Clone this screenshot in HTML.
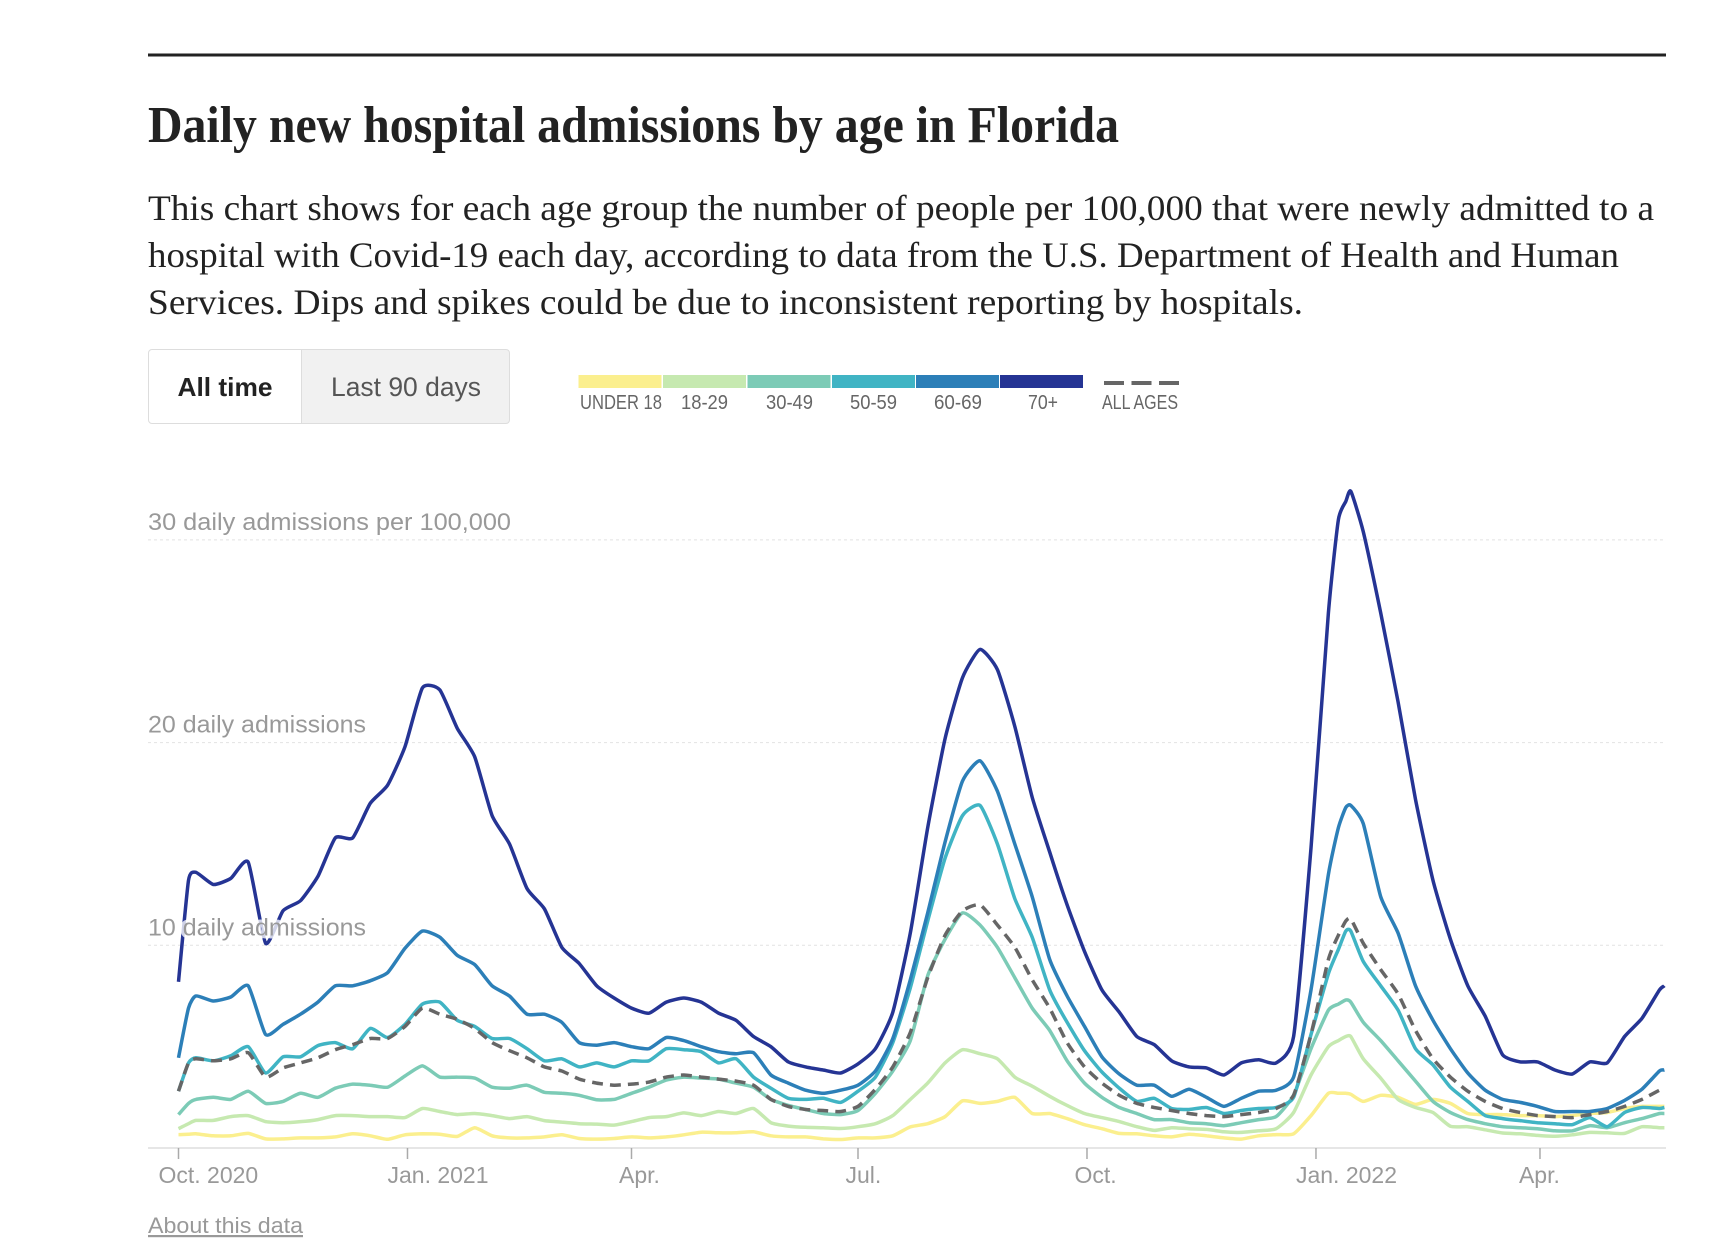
<!DOCTYPE html>
<html lang="en">
<head>
<meta charset="utf-8">
<title>Daily new hospital admissions by age in Florida</title>
<style>
html,body{margin:0;padding:0;background:#fff;width:1728px;height:1260px;overflow:hidden}
svg{display:block}
.serif{font-family:"Liberation Serif",serif}
.sans{font-family:"Liberation Sans",sans-serif}
.ylab{font-family:"Liberation Sans",sans-serif;font-size:24px;fill:#999;paint-order:stroke;stroke:rgba(255,255,255,.78);stroke-width:6px;stroke-linejoin:round}
.xlab{font-family:"Liberation Sans",sans-serif;font-size:23px;fill:#999}
.leg{font-family:"Liberation Sans",sans-serif;font-size:20px;fill:#666}
</style>
</head>
<body>
<svg id="page" width="1728" height="1260" viewBox="0 0 1728 1260" xmlns="http://www.w3.org/2000/svg">
  <rect x="148" y="53.5" width="1518" height="3" fill="#222"/>
  <text class="serif" x="148" y="142" font-size="52" font-weight="700" fill="#222" textLength="971" lengthAdjust="spacingAndGlyphs">Daily new hospital admissions by age in Florida</text>
  <g class="serif" font-size="36" fill="#222">
    <text x="148" y="220" textLength="1506" lengthAdjust="spacingAndGlyphs">This chart shows for each age group the number of people per 100,000 that were newly admitted to a</text>
    <text x="148" y="267" textLength="1471" lengthAdjust="spacingAndGlyphs">hospital with Covid-19 each day, according to data from the U.S. Department of Health and Human</text>
    <text x="148" y="314" textLength="1155" lengthAdjust="spacingAndGlyphs">Services. Dips and spikes could be due to inconsistent reporting by hospitals.</text>
  </g>

  <g>
    <g>
      <path d="M152 349.5H301.5V423.5H152a3.500 3.500 0 0 1-3.500-3.500V353a3.500 3.500 0 0 1 3.500-3.500z" fill="#fff" stroke="#ddd"/>
      <text class="sans" x="177.500" y="396" font-size="26" font-weight="700" fill="#222" textLength="95" lengthAdjust="spacingAndGlyphs">All time</text>
    </g>
    <g>
      <path d="M301.500 349.5H506a3.500 3.500 0 0 1 3.500 3.500V420a3.500 3.500 0 0 1-3.500 3.500H301.500z" fill="#f1f1f1" stroke="#ddd"/>
      <text class="sans" x="331" y="396" font-size="27" fill="#555" textLength="150" lengthAdjust="spacingAndGlyphs">Last 90 days</text>
    </g>
  </g>

  <g>
    <g><rect x="578.500" y="375" width="83" height="13" fill="#fbef8e"/><text class="leg" x="580" y="409" textLength="82" lengthAdjust="spacingAndGlyphs">UNDER 18</text></g>
    <g><rect x="663" y="375" width="83" height="13" fill="#c6e9b0"/><text class="leg" x="681" y="409" textLength="47" lengthAdjust="spacingAndGlyphs">18-29</text></g>
    <g><rect x="747.500" y="375" width="83" height="13" fill="#7ccbb6"/><text class="leg" x="766" y="409" textLength="47" lengthAdjust="spacingAndGlyphs">30-49</text></g>
    <g><rect x="832" y="375" width="83" height="13" fill="#40b4c4"/><text class="leg" x="850" y="409" textLength="47" lengthAdjust="spacingAndGlyphs">50-59</text></g>
    <g><rect x="916" y="375" width="83" height="13" fill="#2c7fb8"/><text class="leg" x="934" y="409" textLength="48" lengthAdjust="spacingAndGlyphs">60-69</text></g>
    <g><rect x="1000" y="375" width="83" height="13" fill="#253494"/><text class="leg" x="1028" y="409" textLength="30" lengthAdjust="spacingAndGlyphs">70+</text></g>
    <g><path d="M1104 383H1179" stroke="#666" stroke-width="4" stroke-dasharray="20 7.500" fill="none"/><text class="leg" x="1102" y="409" textLength="76" lengthAdjust="spacingAndGlyphs">ALL AGES</text></g>
  </g>

  <g id="grid"></g>
  <g id="axis"></g>
  <g id="series"></g>
  <g id="ylabels"></g>

  <text class="sans" x="148" y="1233" font-size="22" fill="#999" text-decoration="underline" textLength="155" lengthAdjust="spacingAndGlyphs">About this data</text>
</svg>

<script>
const days = [0,4,7,14,21,28,35,42,49,56,63,70,77,84,91,98,105,112,119,126,133,140,147,154,161,168,175,182,189,196,203,210,217,224,231,238,245,252,259,266,273,280,287,294,301,308,315,322,329,336,343,350,357,364,371,378,385,392,399,406,413,420,427,434,441,448,455,462,466,469,471,476,483,490,497,504,511,518,525,532,539,546,553,560,567,574,581,588,595,597];

const under18 = [.66,.68,.7,.6,.6,.72,.45,.45,.5,.5,.55,.7,.6,.43,.65,.7,.68,.57,1,.6,.5,.5,.55,.65,.47,.44,.47,.55,.5,.55,.65,.78,.75,.75,.8,.6,.55,.55,.45,.42,.5,.5,.6,1.04,1.2,1.55,2.33,2.2,2.3,2.5,1.7,1.7,1.45,1.15,.95,.72,.7,.6,.55,.68,.6,.5,.44,.6,.66,.7,1.6,2.7,2.7,2.7,2.65,2.3,2.6,2.5,2.15,2.4,2.2,1.7,1.65,1.65,1.6,1.6,1.55,1.6,1.7,1.75,1.95,2.05,2.05,2.05];
const age18to29 = [.95,1.2,1.36,1.36,1.55,1.6,1.3,1.25,1.3,1.4,1.6,1.6,1.55,1.55,1.5,1.95,1.8,1.65,1.7,1.6,1.45,1.55,1.35,1.28,1.2,1.18,1.13,1.3,1.5,1.55,1.73,1.6,1.8,1.7,1.95,1.25,1.08,1.02,1,.96,1.05,1.2,1.6,2.4,3.2,4.2,4.85,4.65,4.4,3.5,3.05,2.55,2.1,1.7,1.5,1.3,1.05,.87,1,.95,.92,.8,.77,.85,.95,1.75,3.6,5,5.3,5.5,5.5,4.4,3.45,2.4,2,1.75,1.07,1.05,.9,.74,.7,.62,.58,.65,.77,.75,.72,1.05,1,1];
const age30to49 = [1.65,2.2,2.4,2.5,2.4,2.8,2.2,2.3,2.7,2.5,2.95,3.15,3.1,3,3.55,4.05,3.5,3.5,3.45,3,2.95,3.1,2.75,2.7,2.6,2.38,2.4,2.7,3,3.35,3.5,3.45,3.4,3.2,3,2.4,2.1,1.9,1.7,1.65,1.85,2.7,3.8,5.3,8.5,10.3,11.6,11,9.9,8.4,6.9,5.8,4.3,3.2,2.5,2,1.7,1.4,1.4,1.25,1.2,1.1,1.25,1.4,1.55,2.6,4.9,6.8,7.1,7.3,7.2,6.2,5.3,4.3,3.3,2.3,1.75,1.4,1.2,1.05,1,.95,.85,.85,1.1,1,1.25,1.45,1.7,1.7];
const age50to59 = [2.8,4.2,4.45,4.3,4.55,5,3.7,4.5,4.5,5.05,5.2,4.9,5.9,5.45,6.1,7.1,7.2,6.3,6,5.4,5.4,4.9,4.3,4.4,4,4.2,4,4.3,4.3,4.9,4.85,4.75,4.2,4.4,3.5,2.95,2.45,2.4,2.45,2.25,2.8,3.5,5.2,7.9,11.2,14.3,16.4,16.9,15,12.3,10.4,7.8,6.2,4.8,3.75,2.95,2.3,2.45,1.95,1.9,2,1.7,1.85,1.95,2,2.5,5.6,8.6,9.8,10.7,10.7,9.2,8,6.8,4.9,4.1,3,2.3,1.6,1.45,1.35,1.25,1.2,1.15,1.5,1.05,1.75,2,1.95,2];
const age60to69 = [4.45,6.9,7.5,7.25,7.45,8,5.6,6.1,6.6,7.2,8,8,8.25,8.65,9.85,10.7,10.4,9.5,9.05,8,7.5,6.6,6.6,6.2,5.2,5.07,5.2,5,4.9,5.45,5.3,5,4.75,4.65,4.7,3.6,3.2,2.85,2.7,2.85,3.1,3.8,5.4,8.3,11.6,15.1,18.1,19.1,17.6,15,12.4,9.3,7.5,6,4.5,3.65,3.1,3.1,2.55,2.9,2.5,2.05,2.45,2.8,2.85,3.5,7.8,13.5,15.8,16.8,16.9,16,12.4,10.6,8,6.3,4.9,3.7,2.85,2.4,2.25,2.05,1.8,1.8,1.8,1.95,2.35,2.9,3.8,3.85];
const age70plus = [8.2,13.2,13.6,13,13.3,14.1,10.1,11.7,12.2,13.4,15.3,15.3,17,17.9,19.8,22.7,22.6,20.7,19.3,16.4,15,12.8,11.8,9.9,9.1,8,7.4,6.9,6.65,7.2,7.4,7.2,6.65,6.3,5.5,5,4.25,4,3.85,3.7,4.15,4.9,6.7,10.6,15.8,20.2,23.2,24.6,23.6,20.8,17.3,14.6,12,9.7,7.8,6.7,5.5,5.1,4.3,4,3.95,3.6,4.2,4.35,4.2,5.5,14.8,26.4,31,31.9,32.4,30.4,26.4,22,17.2,13.2,10.3,8,6.5,4.6,4.25,4.25,3.85,3.65,4.25,4.2,5.5,6.4,7.8,8];
const allAges = [2.8,4.2,4.4,4.3,4.4,4.7,3.5,3.95,4.2,4.45,4.85,5.1,5.4,5.4,6,6.9,6.6,6.35,5.9,5.2,4.8,4.45,4,3.8,3.4,3.2,3.1,3.15,3.25,3.5,3.6,3.5,3.4,3.3,3.1,2.4,2.05,1.9,1.85,1.8,2.05,2.9,4,5.7,8.4,10.5,11.7,12,11,9.9,8.3,6.9,5.2,4,3.2,2.6,2.2,2,1.85,1.7,1.6,1.55,1.65,1.75,1.95,2.6,5.6,9.3,10.5,11.2,11.3,10.1,8.8,7.6,5.8,4.4,3.5,2.8,2.3,1.95,1.75,1.6,1.55,1.5,1.65,1.8,2.05,2.4,2.85,2.9];

const tickDays = [0,92,182,273,365,457,547];
const tickLabels = ['Oct. 2020','Jan. 2021','Apr.','Jul.','Oct.','Jan. 2022','Apr.'];
const gridValues = [10,20,30];
const gridLabels = ['10 daily admissions','20 daily admissions','30 daily admissions per 100,000'];

const NS = 'http://www.w3.org/2000/svg';
const x = d => 178.5 + d * 2.489;
const y = v => 1148 - v * 20.27;
const make = (tag, parent) => { const e = document.createElementNS(NS, tag); parent.appendChild(e); return e; };

const gridG = document.getElementById('grid');
const ylabG = document.getElementById('ylabels');
const labelWidths = {'10 daily admissions':218,'20 daily admissions':218,'30 daily admissions per 100,000':363};
gridValues.forEach((v, i) => {
  const l = make('line', gridG);
  
  
  l.setAttribute('x1', 148); l.setAttribute('x2', 1666);
  l.setAttribute('y1', y(v)); l.setAttribute('y2', y(v));
  l.setAttribute('stroke', '#e2e2e2'); l.setAttribute('stroke-dasharray', '3 3');
  const t = make('text', ylabG);
  
  
  t.setAttribute('class', 'ylab');
  t.setAttribute('x', 148); t.setAttribute('y', y(v) - 10);
  t.setAttribute('textLength', labelWidths[gridLabels[i]]);
  t.setAttribute('lengthAdjust', 'spacingAndGlyphs');
  t.textContent = gridLabels[i];
});

const axisG = document.getElementById('axis');
const base = make('line', axisG);


base.setAttribute('x1', 148); base.setAttribute('x2', 1666);
base.setAttribute('y1', y(0)); base.setAttribute('y2', y(0));
base.setAttribute('stroke', '#ddd'); base.setAttribute('stroke-width', 1.5);
tickDays.forEach((d, i) => {
  const tk = make('line', axisG);
  
  
  tk.setAttribute('x1', x(d)); tk.setAttribute('x2', x(d));
  tk.setAttribute('y1', y(0)); tk.setAttribute('y2', y(0) + 11);
  tk.setAttribute('stroke', '#aaa'); tk.setAttribute('stroke-width', 1.5);
  const t = make('text', axisG);
  
  
  t.setAttribute('class', 'xlab');
  t.setAttribute('x', x(d) + (i === 6 ? -21 : (tickLabels[i].length > 5 ? -20 : -12.5)));
  t.setAttribute('y', 1183);
  t.textContent = tickLabels[i];
});

const seriesG = document.getElementById('series');
const smoothPath = values => {
  const pts = values.map((v, i) => [x(days[i]), y(v)]);
  let d = 'M' + pts[0][0].toFixed(1) + ' ' + pts[0][1].toFixed(1);
  const k = 0.55 / 3;
  for (let i = 0; i < pts.length - 1; i++) {
    const p0 = pts[Math.max(i - 1, 0)], p1 = pts[i], p2 = pts[i + 1], p3 = pts[Math.min(i + 2, pts.length - 1)];
    const c1 = [p1[0] + (p2[0] - p0[0]) * k / 2 * 1, p1[1] + (p2[1] - p0[1]) * k / 2 * 1];
    const c2 = [p2[0] - (p3[0] - p1[0]) * k / 2 * 1, p2[1] - (p3[1] - p1[1]) * k / 2 * 1];
    d += 'C' + c1[0].toFixed(1) + ' ' + c1[1].toFixed(1) + ' ' + c2[0].toFixed(1) + ' ' + c2[1].toFixed(1) + ' ' + p2[0].toFixed(1) + ' ' + p2[1].toFixed(1);
  }
  return d;
};
const drawLine = (values, color, width, dash, name) => {
  const p = make('path', seriesG);
  
  
  p.setAttribute('d', smoothPath(values));
  p.setAttribute('fill', 'none');
  p.setAttribute('stroke', color);
  p.setAttribute('stroke-width', width);
  p.setAttribute('stroke-linejoin', 'round');
  if (dash) p.setAttribute('stroke-dasharray', dash);
};
drawLine(under18, '#fbef8e', 3.5, null, 'line-under-18');
drawLine(age18to29, '#c6e9b0', 3.5, null, 'line-18-29');
drawLine(age30to49, '#7ccbb6', 3.5, null, 'line-30-49');
drawLine(age50to59, '#40b4c4', 3.5, null, 'line-50-59');
drawLine(age60to69, '#2c7fb8', 3.5, null, 'line-60-69');
drawLine(age70plus, '#253494', 3.5, null, 'line-70-plus');
drawLine(allAges, '#666666', 3.5, '11 7', 'line-all-ages');
</script>
</body>
</html>
